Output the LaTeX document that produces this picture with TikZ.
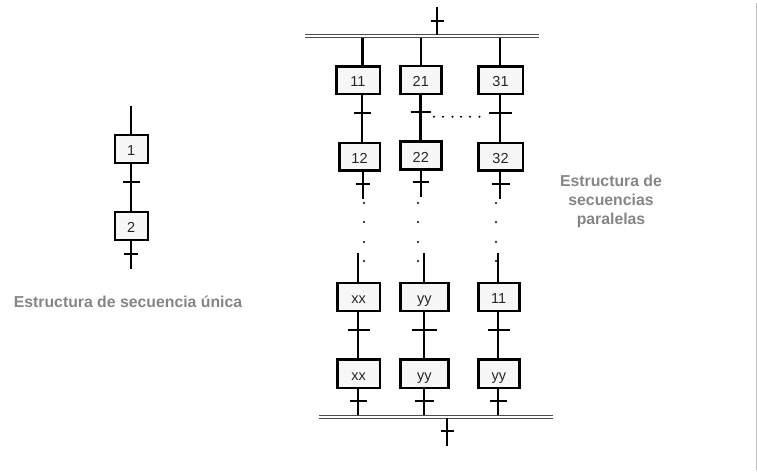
\documentclass[tikz,border=0pt]{standalone}
\usepackage{fontspec}
\setmainfont{Liberation Sans}
\definecolor{lbl}{HTML}{858585}
\definecolor{boxf}{HTML}{F7F7F7}
\tikzset{
  x=1pt,y=-1pt,
  stepbox/.style={draw=black,fill=boxf,line width=2.5pt,inner sep=0pt,text height=13.6pt,text depth=0pt,font=\fontsize{14.5}{16}\selectfont,text=black!85},
  stem/.style={line width=2.4pt,black},
  tickmark/.style={line width=2.2pt,black},
  railline/.style={line width=1pt,black!70},
  dotmark/.style={fill=black,circle,inner sep=0pt,minimum size=2.2pt},
  caption/.style={font=\bfseries\fontsize{15.8}{19}\selectfont,text=lbl,align=center,inner sep=0pt}
}
\newcommand{\mybox}[6]{\node[stepbox,minimum width=#4-#3-2.5,minimum height=#6-#5-2.5] (#1) at ({(#3+#4)/2},{(#5+#6)/2}) {#2};}
\begin{document}
\begin{tikzpicture}
\useasboundingbox (0,0) rectangle (757,472);
% right border
\draw[black!25,line width=0.8pt] (756.3,3) -- (756.3,470);
% stem guides
\foreach \n/\v in {L/131,aa/362.5,ab/361.7,ba/421,bb/420.3,ca/500,da/358,ea/424,fa/498}{\coordinate (\n) at (\v,0);}
% rails
\coordinate (t1) at (305,34.5); \coordinate (t2) at (539,34.5);
\coordinate (t3) at (305,37.5); \coordinate (t4) at (539,37.5);
\coordinate (b1) at (319,415); \coordinate (b2) at (553,415);
\coordinate (b3) at (319,418); \coordinate (b4) at (553,418);
\draw[railline] (t1) -- (t2); \draw[railline] (t3) -- (t4);
\draw[railline] (b1) -- (b2); \draw[railline] (b3) -- (b4);
% boxes
\mybox{s1}{1}{113.5}{149}{133.5}{164}
\mybox{s2}{2}{113.5}{149}{210.5}{241}
\mybox{n11}{11}{335}{381}{65}{95}
\mybox{n21}{21}{399}{442.5}{64.5}{95}
\mybox{n31}{31}{477}{524}{65}{95}
\mybox{n12}{12}{338}{381}{141.5}{171.5}
\mybox{n22}{22}{399}{442.5}{140}{170.5}
\mybox{n32}{32}{477}{524}{141.5}{171.5}
\mybox{x1}{xx}{336}{381}{281.5}{312}
\mybox{y1}{yy}{399}{449.5}{281.5}{312}
\mybox{z1}{11}{477}{520.5}{281.5}{312}
\mybox{x2}{xx}{336}{381}{358}{389}
\mybox{y2}{yy}{399}{449.5}{358}{389}
\mybox{z2}{yy}{477}{520.5}{358}{389}
% single sequence
\coordinate (Ltop) at (131,106); \coordinate (Lbot) at (131,269);
\draw[stem] (Ltop) -- (L |- s1.north);
\draw[stem] (L |- s1.south) -- (L |- s2.north);
\draw[stem] (L |- s2.south) -- (Lbot);
\draw[tickmark] (123,182) -- (140,182);
\draw[tickmark] (124,254) -- (138,254);
% top part
\coordinate (Ttop) at (437,7); \coordinate (Tbar) at (437,35);
\draw[stem] (Ttop) -- (Tbar);
\draw[tickmark] (430.5,21) -- (444,21);
\draw[stem] (aa |- t3) -- (aa |- n11.north);
\draw[stem] (ba |- t3) -- (ba |- n21.north);
\draw[stem] (ca |- t3) -- (ca |- n31.north);
\draw[stem] (ab |- n11.south) -- (ab |- n12.north);
\draw[stem] (bb |- n21.south) -- (bb |- n22.north);
\draw[stem] (ca |- n31.south) -- (ca |- n32.north);
\draw[tickmark] (354,113) -- (371,113);
\draw[tickmark] (410.5,112) -- (431,112);
\draw[tickmark] (489,113) -- (512,113);
\coordinate (e1) at (362.7,199); \coordinate (e2) at (420.7,197); \coordinate (e3) at (500,199);
\draw[stem] (e1 |- n12.south) -- (e1);
\draw[stem] (e2 |- n22.south) -- (e2);
\draw[stem] (e3 |- n32.south) -- (e3);
\draw[tickmark] (356,184) -- (369.5,184);
\draw[tickmark] (412.5,182) -- (429,182);
\draw[tickmark] (491.5,184) -- (509.5,184);
% dots
\foreach \px in {364,418,496}{\foreach \py in {203,222,242,261}{\node[dotmark] at (\px,\py) {};}}
\foreach \px in {434,443,452.5,461,470,479.5}{\node[dotmark] at (\px,116.7) {};}
% lower part
\coordinate (f1) at (358,253); \coordinate (f2) at (424,253); \coordinate (f3) at (498,253);
\draw[stem] (f1) -- (f1 |- x1.north);
\draw[stem] (f2) -- (f2 |- y1.north);
\draw[stem] (f3) -- (f3 |- z1.north);
\draw[stem] (da |- x1.south) -- (da |- x2.north);
\draw[stem] (ea |- y1.south) -- (ea |- y2.north);
\draw[stem] (fa |- z1.south) -- (fa |- z2.north);
\draw[tickmark] (348,329.7) -- (369.5,329.7);
\draw[tickmark] (412,329.7) -- (436.5,329.7);
\draw[tickmark] (488,329.7) -- (509.5,329.7);
\draw[stem] (da |- x2.south) -- (da |- b1);
\draw[stem] (ea |- y2.south) -- (ea |- b1);
\draw[stem] (fa |- z2.south) -- (fa |- b1);
\draw[tickmark] (350,401) -- (367,401);
\draw[tickmark] (414.5,401) -- (434,401);
\draw[tickmark] (490,401) -- (507,401);
\coordinate (Bbar) at (447,418); \coordinate (Bbot) at (447,446);
\draw[stem] (Bbar) -- (Bbot);
\draw[tickmark] (440.5,431) -- (454,431);
% captions
\node[caption] (c1) at (128,302) {Estructura de secuencia única};
\node[caption] (c2) at (611,201) {Estructura de\\secuencias\\paralelas};
\end{tikzpicture}
\end{document}
